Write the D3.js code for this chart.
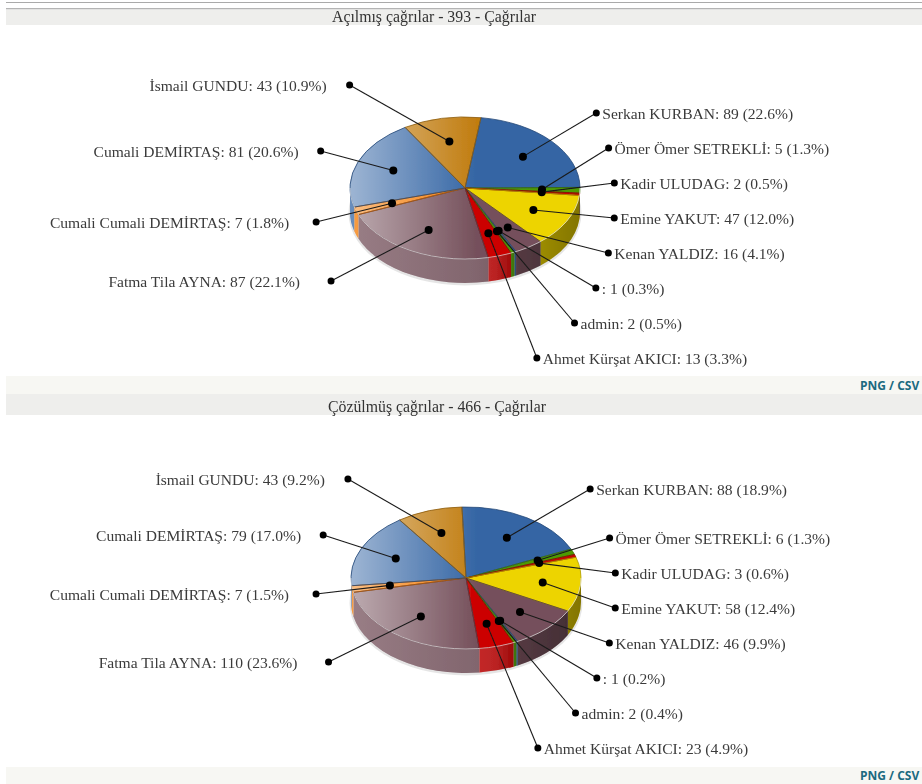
<!DOCTYPE html>
<html lang="tr">
<head>
    <meta charset="utf-8">
    <title>Çağrılar</title>
    <script src="https://d3js.org/d3.v7.min.js"></script>
    <style type="text/css">
        html, body { margin: 0; padding: 0; background: #fff; overflow: hidden; }
        svg { display: block; }
        .lbl { font-family: "Liberation Serif", serif; font-size: 15.55px; fill: #3a3a3a; }
        .ttl { font-family: "Liberation Serif", serif; font-size: 15.8px; fill: #333; text-anchor: middle; }
        .lnk { font-family: "Open Sans", sans-serif; font-size: 12px; font-weight: 700; fill: #1b6a80; }
    </style>
</head>
<body>
<script type="text/javascript">
    // chart data, clockwise from the first slice
    var names = ["Serkan KURBAN", "Ömer Ömer SETREKLİ", "Kadir ULUDAG", "Emine YAKUT", "Kenan YALDIZ", "",
                 "admin", "Ahmet Kürşat AKICI", "Fatma Tila AYNA", "Cumali Cumali DEMİRTAŞ", "Cumali DEMİRTAŞ", "İsmail GUNDU"];
    var opened = [89, 5, 2, 47, 16, 1, 2, 13, 87, 7, 81, 43];
    var solved = [88, 6, 3, 58, 46, 1, 2, 23, 110, 7, 79, 43];
    var colors = ["#3465a4", "#4e9a06", "#cc0000", "#edd400", "#75505b", "#3465a4",
                  "#4e9a06", "#cc0000", "#75505b", "#f57900", "#3465a4", "#c17d11"];
    var titleOpened = "Açılmış çağrılar - 393 - Çağrılar";
    var titleSolved = "Çözülmüş çağrılar - 466 - Çağrılar";
    // label rows for each chart, same order as names
    var rowsOpened = [113, 148, 183, 218, 253, 288, 323, 358, 281, 222, 151, 85];
    var rowsSolved = [99, 148, 183, 218, 253, 288, 323, 358, 272, 204, 145, 89];
    // space between dot and text on the left hand labels
    var leftGaps = [6, 6, 6, 6, 6, 6, 6, 6, 31, 27, 22, 23];

    var w = 922, h = 784;
    var rx = 115, ry = 71, depth = 24;
    var svg = d3.select("body").append("svg").attr("width", w).attr("height", h);
    var defs = svg.append("defs");

    var shine = defs.append("linearGradient").attr("id", "shine");
    shine.append("stop").attr("offset", "0").attr("stop-color", "#fff").attr("stop-opacity", 0.52);
    shine.append("stop").attr("offset", "0.55").attr("stop-color", "#fff").attr("stop-opacity", 0);

    var wall = defs.append("linearGradient").attr("id", "wall");
    wall.append("stop").attr("offset", "0").attr("stop-color", "#fff").attr("stop-opacity", 0.26);
    wall.append("stop").attr("offset", "0.55").attr("stop-color", "#aaa").attr("stop-opacity", 0.24);
    wall.append("stop").attr("offset", "0.63").attr("stop-color", "#888").attr("stop-opacity", 0.26);
    wall.append("stop").attr("offset", "0.73").attr("stop-color", "#000").attr("stop-opacity", 0.28);
    wall.append("stop").attr("offset", "1").attr("stop-color", "#000").attr("stop-opacity", 0.45);

    var soft = defs.append("filter").attr("id", "soft");
    soft.append("feGaussianBlur").attr("stdDeviation", 0.45);

    // page strips
    function strip(y, height, color) {
        svg.append("rect").attr("x", 6).attr("y", y).attr("width", w - 6).attr("height", height).attr("fill", color);
    }
    strip(2, 1, "#aaa");
    strip(8, 1.5, "#b4b4b4");
    strip(9.5, 15.5, "#eeeeec");
    strip(376, 18, "#f7f7f3");
    strip(394, 21, "#eeeeec");
    strip(767, 17, "#f7f7f3");

    function drawChart(values, title, rows, opt) {
        var total = d3.sum(values);
        var pct = d3.format(".1f");
        var start = opt.start * Math.PI / 180;
        var slices = d3.pie().sort(null).value(function(d) { return d; })
            .startAngle(start).endAngle(start + 2 * Math.PI)(values);
        var arc = d3.arc().innerRadius(0).outerRadius(rx);
        var cx = opt.cx, cy = opt.cy;

        function px(a, f) { return cx + rx * f * Math.sin(a); }
        function py(a, f) { return cy - ry * f * Math.cos(a); }

        svg.append("text").attr("class", "ttl").attr("x", opt.titleX).attr("y", opt.titleY)
            .attr("filter", "url(#soft)").text(title);

        var g = svg.append("g").attr("filter", "url(#soft)");

        // faint shadow under the whole pie
        g.append("ellipse").attr("cx", cx).attr("cy", cy + depth + 1).attr("rx", rx + 1.5).attr("ry", ry + 1.5)
            .attr("fill", "#000").attr("opacity", 0.1);

        // side wall: only the front half of the rim shows
        var lo = Math.PI / 2, hi = 3 * Math.PI / 2;
        var walls = [];
        slices.forEach(function(s, i) {
            [0, 2 * Math.PI].forEach(function(off) {
                var a0 = Math.max(s.startAngle + off, lo), a1 = Math.min(s.endAngle + off, hi);
                if (a1 > a0) walls.push({ a0: a0, a1: a1, color: colors[i] });
            });
        });
        function wallPath(d) {
            return "M" + px(d.a0, 1) + "," + py(d.a0, 1)
                + "A" + rx + "," + ry + " 0 0 1 " + px(d.a1, 1) + "," + py(d.a1, 1)
                + "L" + px(d.a1, 1) + "," + (py(d.a1, 1) + depth)
                + "A" + rx + "," + ry + " 0 0 0 " + px(d.a0, 1) + "," + (py(d.a0, 1) + depth) + "Z";
        }
        g.selectAll("path.wall").data(walls).enter().append("path").attr("class", "wall")
            .attr("d", wallPath).attr("fill", function(d) { return d.color; });
        g.append("path").attr("d", wallPath({ a0: lo, a1: hi })).attr("fill", "url(#wall)");

        // top face
        var top = g.append("g").attr("transform", "translate(" + cx + "," + cy + ") scale(1," + (ry / rx) + ")");
        top.selectAll("path.face").data(slices).enter().append("path").attr("class", "face")
            .attr("d", arc).attr("fill", function(d, i) { return colors[i]; });
        top.append("circle").attr("r", rx).attr("fill", "url(#shine)");
        top.selectAll("path.edge").data(slices).enter().append("path").attr("class", "edge")
            .attr("d", arc).attr("fill", "none")
            .attr("stroke", function(d, i) { return d3.color(colors[i]).darker(0.9); })
            .attr("stroke-width", 0.8).attr("vector-effect", "non-scaling-stroke");

        // light rim along the front edge
        g.append("path")
            .attr("d", "M" + px(lo, 1) + "," + py(lo, 1) + "A" + rx + "," + ry + " 0 0 1 " + px(hi, 1) + "," + py(hi, 1))
            .attr("fill", "none").attr("stroke", "#fff").attr("stroke-opacity", 0.6).attr("stroke-width", 1);

        // leader lines and labels
        slices.forEach(function(s, i) {
            var mid = (s.startAngle + s.endAngle) / 2;
            var x0 = px(mid, 0.67), y0 = py(mid, 0.67);
            var y1 = rows[i] + opt.rowOffset;
            var right = Math.sin(mid) > 0;
            var t = (y1 - (cy + 12)) / 180;
            var x1 = cx + (right ? 1 : -1) * 150 * Math.sqrt(Math.max(0, 1 - t * t));
            var label = names[i] + ": " + values[i] + " (" + pct(values[i] / total * 100) + "%)";

            g.append("line").attr("x1", x0).attr("y1", y0).attr("x2", x1).attr("y2", y1)
                .attr("stroke", "#1a1a1a").attr("stroke-width", 1.1);
            g.append("circle").attr("cx", x0).attr("cy", y0).attr("r", 4).attr("fill", "#000");
            g.append("circle").attr("cx", x1).attr("cy", y1).attr("r", 3.5).attr("fill", "#000");
            g.append("text").attr("class", "lbl")
                .attr("x", right ? x1 + 6 : x1 - leftGaps[i])
                .attr("y", y1 + 6)
                .attr("text-anchor", right ? "start" : "end")
                .text(label);
        });

        svg.append("text").attr("class", "lnk").attr("x", 860).attr("y", opt.linkY).text("PNG / CSV");
    }

    drawChart(opened, titleOpened, rowsOpened, { start: 8, cx: 465, cy: 188, titleX: 434, titleY: 21.5, rowOffset: 0, linkY: 390 });
    drawChart(solved, titleSolved, rowsSolved, { start: -2, cx: 466, cy: 578, titleX: 437, titleY: 411.5, rowOffset: 390, linkY: 780 });
</script>
</body>
</html>
